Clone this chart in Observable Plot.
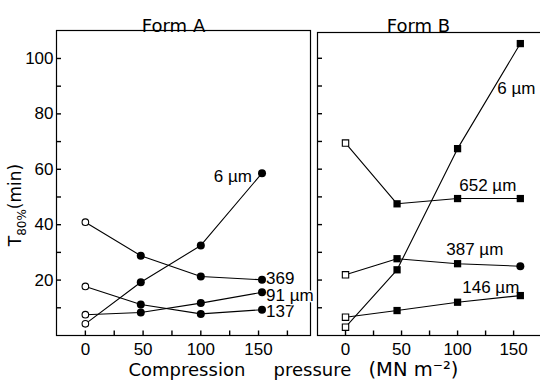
<!DOCTYPE html>
<html><head><meta charset="utf-8">
<script src="https://cdn.jsdelivr.net/npm/d3@7"></script>
<script src="https://cdn.jsdelivr.net/npm/@observablehq/plot@0.6"></script>
<style>
html,body{margin:0;padding:0;background:#fff;}
#chart{position:relative;width:540px;height:383px;overflow:hidden;background:#fff;}
#chart svg{position:absolute;top:0;}
</style></head><body><div id="chart"></div>
<script>
// ---- data ----
const pressureA = [0, 48, 100, 153];
const pressureB = [0, 46, 100, 156];
const seriesA = ["6 µm", "369", "91 µm", "137"];
const formA_6 = [4.2, 19.2, 32.5, 58.6];
const formA_369 = [40.9, 28.8, 21.3, 20.1];
const formA_91 = [7.5, 8.3, 11.7, 15.6];
const formA_137 = [17.7, 11.2, 7.8, 9.3];
const seriesB = ["6 µm", "652 µm", "387 µm", "146 µm"];
const formB_6 = [3.0, 23.7, 67.4, 105.3];
const formB_652 = [69.4, 47.5, 49.4, 49.4];
const formB_387 = [21.9, 27.7, 25.9, 25.0];
const formB_146 = [6.6, 9.0, 12.0, 14.4];
const xTickLabels = [0, 50, 100, 150];
const xTickMarks = [0, 25, 50, 75, 100, 125, 150, 175];
const yTickLabels = [20, 40, 60, 80, 100];
const yTickMarks = [10, 20, 30, 40, 50, 60, 70, 80, 90, 100];
const panelTitles = ["Form A", "Form B"];

function buildRows(xs, names, lists) {
  const out = [];
  names.forEach((s, k) => lists[k].forEach((v, i) => out.push({s, p: xs[i], v, i})));
  return out;
}
const rowsA = buildRows(pressureA, seriesA, [formA_6, formA_369, formA_91, formA_137]);
const rowsB = buildRows(pressureB, seriesB, [formB_6, formB_652, formB_387, formB_146]);

const numFont = "'Liberation Sans', Arial, sans-serif";
const wordFont = "'DejaVu Sans', sans-serif";
const lw = 1.2;
const tickLen = 5;
// a small filled bar used as an inward x tick (pointing up from the axis)
const tickUp = {draw(context) { context.moveTo(-0.7, 0); context.lineTo(0.7, 0); context.lineTo(0.7, -tickLen); context.lineTo(-0.7, -tickLen); context.closePath(); }};

function axes(withYLabels) {
  return [
    Plot.dot(xTickMarks, {x: d => d, frameAnchor: "bottom", symbol: tickUp, r: 3, fill: "black", stroke: "none"}),
    Plot.axisY({anchor: "left", ticks: yTickMarks, tickSize: tickLen, tickPadding: 0, dx: tickLen, tickFormat: () => "", label: null, stroke: "black", strokeWidth: 1.4}),
    Plot.axisX({anchor: "bottom", ticks: xTickLabels, tickSize: 0, tickPadding: 7, label: null, fontSize: 17}),
    ...(withYLabels ? [Plot.axisY({anchor: "left", ticks: yTickLabels, tickSize: 0, tickPadding: 3, label: null, fontSize: 17})] : [])
  ];
}

function labelMarks(rows, opts, halo) {
  return Object.entries(opts).map(([s, o]) =>
    Plot.text(rows.filter(d => d.s === s && d.i === 3), {
      x: "p", y: "v", text: "s", fill: "black", fontSize: 17, fontFamily: numFont,
      ...(halo ? {stroke: "white", strokeWidth: 3} : {}), ...o
    }));
}

const labelA = {
  "6 µm": {textAnchor: "end", dx: -10, dy: 3},
  "369": {textAnchor: "start", dx: 4, dy: -1.5},
  "91 µm": {textAnchor: "start", dx: 4, dy: 3},
  "137": {textAnchor: "start", dx: 4, dy: 1.5}
};
const labelB = {
  "6 µm": {textAnchor: "start", dx: -23, dy: 45},
  "652 µm": {textAnchor: "end", dx: -4, dy: -13},
  "387 µm": {textAnchor: "end", dx: -17, dy: -17},
  "146 µm": {textAnchor: "end", dx: -1, dy: -8.5}
};

const titleText = (t, dx, size = 18) => Plot.text([t], {frameAnchor: "bottom-left", text: d => d, textAnchor: "start", dx, dy: 40, fontSize: size, fontFamily: wordFont, fill: "black"});

const plotA = Plot.plot({
  width: 540, height: 383,
  marginLeft: 56, marginRight: 230, marginTop: 30, marginBottom: 48,
  style: {background: "transparent", fontFamily: numFont, fontSize: "17px", color: "black"},
  x: {domain: [-25, 195], label: null},
  y: {domain: [0, 110.1], label: null},
  marks: [
    Plot.frame({stroke: "black", strokeWidth: lw}),
    ...axes(true),
    Plot.line(rowsA, {x: "p", y: "v", z: "s", stroke: "black", strokeWidth: 1.1}),
    ...labelMarks(rowsA, labelA, true),
    Plot.dot(rowsA.filter(d => d.i === 0), {x: "p", y: "v", r: 3.3, symbol: "circle", fill: "white", stroke: "black", strokeWidth: 1.1}),
    Plot.dot(rowsA.filter(d => d.i > 0), {x: "p", y: "v", r: 4, symbol: "circle", fill: "black"}),
    Plot.text([panelTitles[0]], {frameAnchor: "top", text: d => d, dx: -10, dy: -11.5, fontSize: 18, fontFamily: wordFont, fill: "black"}),
    titleText("Compression", 72),
    titleText("pressure", 217),
    titleText("(MN m⁻²)", 312, 19.5)
  ]
});

const plotB = Plot.plot({
  width: 240, height: 383,
  marginLeft: 17, marginRight: 0, marginTop: 32, marginBottom: 48,
  style: {background: "transparent", fontFamily: numFont, fontSize: "17px", color: "black"},
  x: {domain: [-25, 174], label: null},
  y: {domain: [0, 109.3], label: null},
  marks: [
    Plot.frame({stroke: "black", strokeWidth: lw, insetRight: -4}),
    ...axes(false),
    Plot.line(rowsB, {x: "p", y: "v", z: "s", stroke: "black", strokeWidth: 1.1}),
    ...labelMarks(rowsB, labelB, false),
    Plot.dot(rowsB.filter(d => d.i === 0), {x: "p", y: "v", r: 3.6, symbol: "square", fill: "white", stroke: "black", strokeWidth: 1.1}),
    Plot.dot(rowsB.filter(d => d.i > 0 && !(d.s === "387 µm" && d.i === 3)), {x: "p", y: "v", r: 4.1, symbol: "square", fill: "black"}),
    Plot.dot(rowsB.filter(d => d.s === "387 µm" && d.i === 3), {x: "p", y: "v", r: 4, symbol: "circle", fill: "black"}),
    Plot.text([panelTitles[1]], {frameAnchor: "top", text: d => d, dx: -10.5, dy: -13.5, fontSize: 18, fontFamily: wordFont, fill: "black"})
  ]
});

// y-axis title with subscript
const yl = d3.select(plotA).append("text")
  .attr("transform", "translate(21,205) rotate(-90)")
  .attr("text-anchor", "middle")
  .attr("font-family", "DejaVu Sans")
  .attr("font-size", 17)
  .attr("fill", "black");
yl.append("tspan").text("T");
yl.append("tspan").attr("font-size", 12).attr("dy", 5).text("80%");
yl.append("tspan").attr("dy", -5).text("(min)");

const chart = document.getElementById("chart");
plotA.style.left = "0px";
plotB.style.left = "300px";
chart.appendChild(plotA);
chart.appendChild(plotB);
</script></body></html>
